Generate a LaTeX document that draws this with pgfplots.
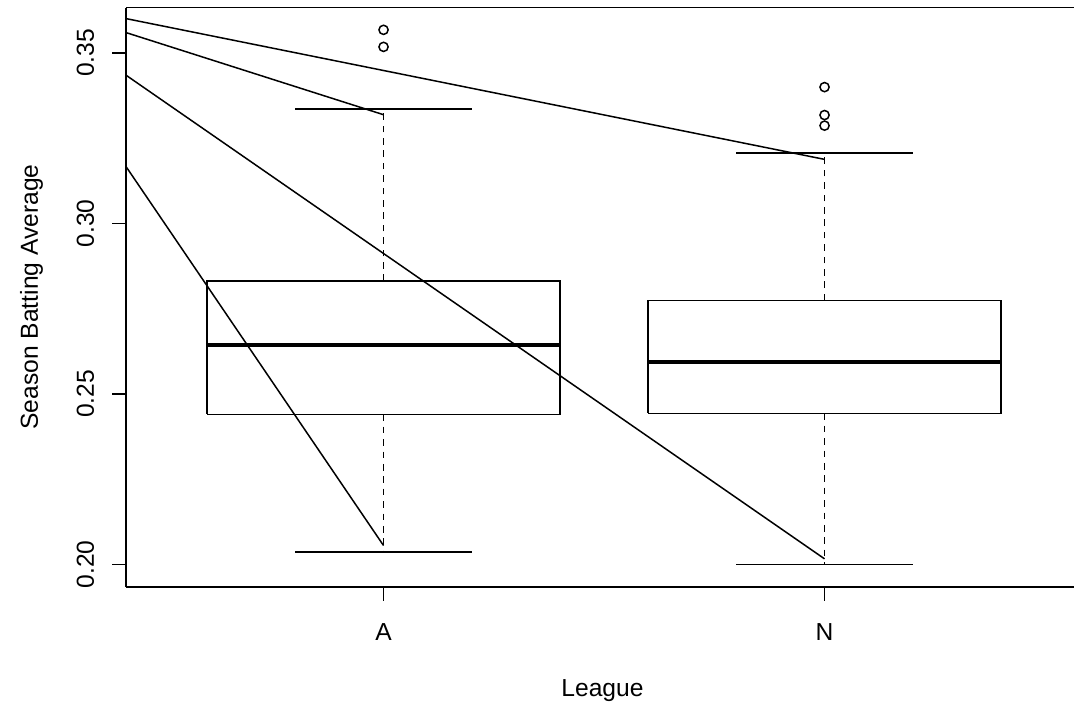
\documentclass[border=0pt]{standalone}
\usepackage{fontspec}
\setmainfont{Liberation Sans}
\usepackage{pgfplots}
\pgfplotsset{compat=1.18}
\begin{document}%
\fontsize{12.3}{14.5}\selectfont%
\begin{tikzpicture}
\begin{axis}[
  at={(0,0)}, anchor=south west,
  scale only axis, width=476.5pt, height=289.65pt,
  xmin=0.416, xmax=2.577, ymin=0.19334, ymax=0.3633,
  axis x line*=box, axis y line*=left,
  axis line style={line width=0.75pt, black},
  xtick={1,2}, xticklabels={A,N},
  ytick={0.20,0.25,0.30,0.35},
  xtick pos=left, ytick pos=left,
  tick align=outside,
  major tick length=6.8pt,
  every tick/.style={line width=0.75pt, black},
  /pgf/number format/assume math mode=true,
  yticklabel={\pgfmathprintnumber[fixed,fixed zerofill,precision=2]{\tick}},
  yticklabel style={rotate=90, anchor=base, inner sep=0pt},
  yticklabel shift=9.2pt,
  xticklabel style={anchor=north, inner sep=0pt},
  xticklabel shift=11.4pt,
  clip=true,
]
% boxes
\addplot[black, line width=0.75pt] coordinates {(0.6,0.2440) (1.4,0.2440) (1.4,0.2831) (0.6,0.2831) (0.6,0.2440)};
\addplot[black, line width=0.75pt] coordinates {(1.6,0.2443) (2.4,0.2443) (2.4,0.2774) (1.6,0.2774) (1.6,0.2443)};
% medians
\addplot[black, line width=2pt] coordinates {(0.6,0.2644) (1.4,0.2644)};
\addplot[black, line width=2pt] coordinates {(1.6,0.2594) (2.4,0.2594)};
% whiskers
\addplot[black, line width=0.8pt, dash pattern=on 3.3pt off 2.9pt] coordinates {(1,0.2831) (1,0.3336)};
\addplot[black, line width=0.8pt, dash pattern=on 3.3pt off 2.9pt] coordinates {(1,0.2440) (1,0.2036)};
\addplot[black, line width=0.8pt, dash pattern=on 3.3pt off 2.9pt] coordinates {(2,0.2774) (2,0.3206)};
\addplot[black, line width=0.8pt, dash pattern=on 3.3pt off 2.9pt] coordinates {(2,0.2443) (2,0.2000)};
% caps
\addplot[black, line width=0.75pt] coordinates {(0.8,0.3336) (1.2,0.3336)};
\addplot[black, line width=0.75pt] coordinates {(0.8,0.2036) (1.2,0.2036)};
\addplot[black, line width=0.75pt] coordinates {(1.8,0.3206) (2.2,0.3206)};
\addplot[black, line width=0.75pt] coordinates {(1.8,0.2000) (2.2,0.2000)};
% outliers
\addplot[only marks, mark=o, mark size=2.3pt, mark options={line width=0.75pt, black}] coordinates {(1,0.3568) (1,0.3518) (2,0.3400) (2,0.3318) (2,0.3287)};
% lines
\addplot[black, line width=0.75pt] coordinates {(0.416,0.3601) (2,0.3188)};
\addplot[black, line width=0.75pt] coordinates {(0.416,0.3560) (1,0.3319)};
\addplot[black, line width=0.75pt] coordinates {(0.416,0.3435) (2,0.2016)};
\addplot[black, line width=0.75pt] coordinates {(0.416,0.3167) (1,0.2055)};
\end{axis}
\node[anchor=base] at (238.25pt,-54.5pt) {League};
\node[rotate=90, anchor=base] at (-44pt,145pt) {Season Batting Average};
\pgfresetboundingbox
\path (-63pt,-57pt) rectangle (474pt,293.5pt);
\end{tikzpicture}%
\end{document}
